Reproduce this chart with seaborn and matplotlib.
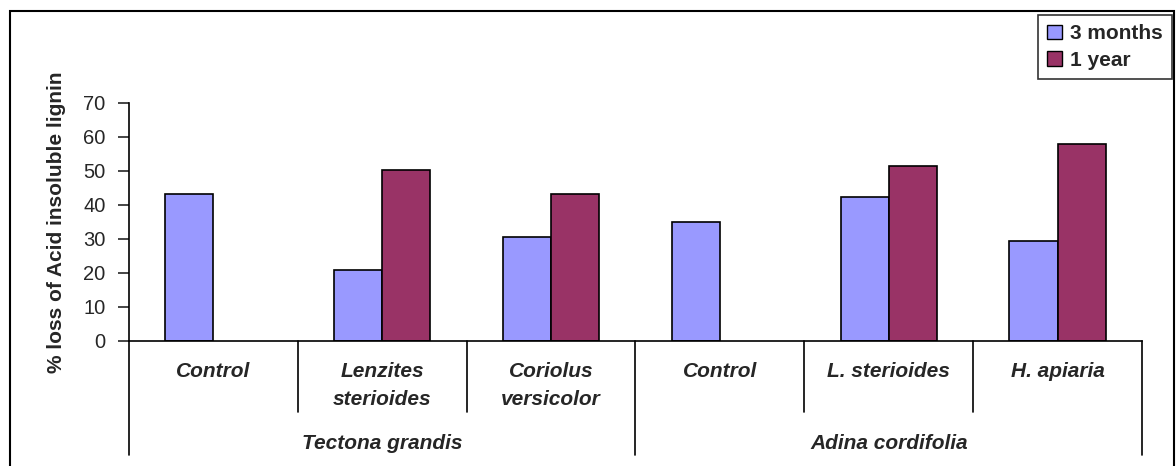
import matplotlib
matplotlib.use("Agg")
import matplotlib.pyplot as plt
import matplotlib.patches as mpatches
import pandas as pd
import seaborn as sns

# data
keys = ["TG Control", "TG Lenzites", "TG Coriolus", "AC Control", "AC L. sterioides", "AC H. apiaria"]
cat_labels = ["Control", "Lenzites\nsterioides", "Coriolus\nversicolor",
              "Control", "L. sterioides", "H. apiaria"]
groups = ["Tectona grandis", "Adina cordifolia"]
three_months = [43.1, 20.9, 30.6, 34.9, 42.3, 29.3]
one_year = [None, 50.3, 43.1, None, 51.6, 58.0]
series = ["3 months", "1 year"]
colors = ["#9999FF", "#993366"]

df = pd.DataFrame({
    "key": keys * 2,
    "period": [series[0]] * 6 + [series[1]] * 6,
    "value": three_months + one_year,
}).dropna()

sns.set_style("white")
plt.rcParams["font.family"] = ["Liberation Sans", "DejaVu Sans"]

W, H = 1176, 466
fig = plt.figure(figsize=(W / 100, H / 100), dpi=100)
ax = fig.add_axes([129 / W, 1 - 341 / H, (1142 - 129) / W, (341 - 103) / H])

sns.barplot(data=df, x="key", y="value", hue="period", order=keys, hue_order=series,
            palette=colors, width=0.57, gap=0, edgecolor="black", linewidth=1.2,
            saturation=1, legend=False, ax=ax)

ax.set_xlim(-0.5, 5.5)
ax.set_ylim(0, 70)
ax.set_yticks(range(0, 71, 10))
ax.tick_params(axis="y", direction="out", length=8, width=1.2, labelsize=14.5, pad=9, left=True)
ax.set_xticks([])
ax.set_xlabel("")
ax.set_ylabel("% loss of Acid insoluble lignin", fontsize=15, fontweight="bold", labelpad=12)
sns.despine(ax=ax)
for s in ["left", "bottom"]:
    ax.spines[s].set_linewidth(1.2)
    ax.spines[s].set_color("black")

# multi-level category axis
tr = ax.get_xaxis_transform()
for i, lab in enumerate(cat_labels):
    ax.text(i, -0.09, lab, transform=tr, ha="center", va="top", fontsize=15,
            fontweight="bold", fontstyle="italic", linespacing=1.55)
for g, name in enumerate(groups):
    ax.text(g * 3 + 1, -0.43, name, transform=tr, ha="center", va="center", fontsize=15,
            fontweight="bold", fontstyle="italic")
for xb in [0.5, 1.5, 3.5, 4.5]:
    ax.plot([xb, xb], [0, -0.3], transform=tr, color="black", lw=1.2, clip_on=False)
for xb in [-0.5, 2.5, 5.5]:
    ax.plot([xb, xb], [0, -0.48], transform=tr, color="black", lw=1.2, clip_on=False)

# legend
handles = [mpatches.Patch(facecolor=c, edgecolor="black", label=s) for c, s in zip(colors, series)]
leg = fig.legend(handles=handles, loc="upper right", bbox_to_anchor=(1172 / W, 1 - 15 / H),
                 frameon=True, fancybox=False, shadow=False, borderaxespad=0,
                 prop={"weight": "bold", "size": 15}, handlelength=0.7, handleheight=0.7,
                 handletextpad=0.4, labelspacing=0.35, borderpad=0.45)
leg.get_frame().set_edgecolor("black")
leg.get_frame().set_linewidth(1.2)

# outer chart border
fig.add_artist(mpatches.Rectangle((10 / W, -0.05), (1174 - 10) / W, 1.05 - 11 / H,
                                  transform=fig.transFigure, fill=False,
                                  edgecolor="black", lw=1.5))

fig.savefig("out.png", dpi=100)
